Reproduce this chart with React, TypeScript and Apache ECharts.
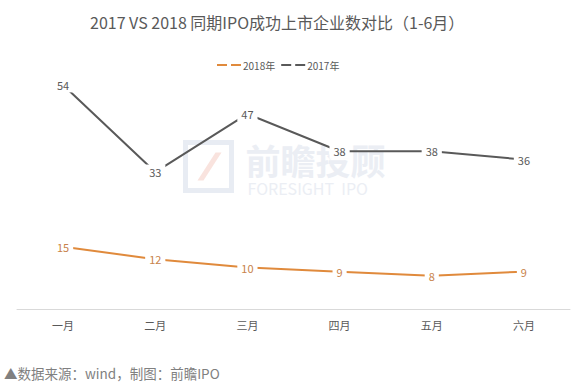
import React, { useEffect, useRef } from "react";
import * as echarts from "echarts";

const categories = ["一月", "二月", "三月", "四月", "五月", "六月"];
const values2018 = [15, 12, 10, 9, 8, 9];
const values2017 = [54, 33, 47, 38, 38, 36];
const seriesNames = ["2018年", "2017年"];

const FONT = "'Noto Sans CJK SC', 'Noto Sans', sans-serif";

export default function App() {
  const ref = useRef<HTMLDivElement>(null);
  useEffect(() => {
    if (!ref.current) return;
    const chart = echarts.init(ref.current, null, { renderer: "svg" });
    const legendIcon = "path://M0,0H10V2H0Z M14,0H24V2H14Z";
    const labelCfg = (color: string) => ({
      show: true,
      position: "inside",
      color,
      fontSize: 11,
      fontFamily: FONT,
      backgroundColor: "#ffffff",
      padding: [2, 4],
    });
    chart.setOption({
      animation: false,
      backgroundColor: "#ffffff",
      textStyle: { fontFamily: FONT },
      title: {
        text: "2017 VS 2018 同期IPO成功上市企业数对比（1-6月）",
        left: 85,
        top: 9,
        textStyle: { fontSize: 16, fontWeight: "normal", color: "#595959", fontFamily: FONT },
      },
      legend: {
        data: seriesNames.map((n) => ({ name: n, icon: legendIcon })),
        top: 55,
        left: 212,
        itemWidth: 24,
        itemHeight: 2,
        itemGap: 6,
        textStyle: { fontSize: 10, color: "#595959", fontFamily: FONT, padding: [0, 0, 0, -3] },
      },
      grid: { left: 17, right: 5, top: 60, bottom: 79, containLabel: false },
      xAxis: {
        type: "category",
        data: categories,
        boundaryGap: true,
        axisLine: { show: true, lineStyle: { color: "#d9d9d9", width: 1 } },
        axisTick: { show: false },
        axisLabel: { color: "#595959", fontSize: 11, margin: 10, fontFamily: FONT },
      },
      yAxis: {
        type: "value",
        min: 0,
        max: 60,
        interval: 10,
        show: false,
        splitLine: { show: false },
      },
      graphic: [
        {
          type: "group",
          left: 183,
          top: 140,
          silent: true,
          z: -10,
          children: [
            { type: "rect", shape: { x: 2, y: 2, width: 46, height: 48 }, style: { fill: "none", stroke: "#e8ecf3", lineWidth: 5 } },
            { type: "polygon", shape: { points: [[14, 40], [20, 40], [38, 12], [32, 12]] }, style: { fill: "#f9e3de" } },
            {
              type: "text",
              x: 62,
              y: 0,
              style: {
                text: "{a|前瞻投顾}\n{b|FORESIGHT  IPO}",
                fill: "#ebeef4",
                fontFamily: FONT,
                rich: {
                  a: { fontSize: 35, lineHeight: 38, fontWeight: "bold", fill: "#ebeef4", fontFamily: FONT },
                  b: { fontSize: 16, lineHeight: 18, fill: "#ebeef4", fontFamily: FONT, padding: [0, 0, 0, 2] },
                },
              },
            },
          ],
        },
        {
          type: "text",
          left: 4,
          top: 366,
          style: { text: "▲数据来源：wind，制图：前瞻IPO", fontSize: 13.5, fill: "#808080", fontFamily: FONT },
        },
      ],
      series: [
        {
          name: seriesNames[0],
          type: "line",
          data: values2018,
          symbol: "circle",
          symbolSize: 1,
          lineStyle: { color: "#e08a3c", width: 2 },
          itemStyle: { color: "#e08a3c" },
          label: labelCfg("#c8824a"),
          z: 3,
        },
        {
          name: seriesNames[1],
          type: "line",
          data: values2017,
          symbol: "circle",
          symbolSize: 1,
          lineStyle: { color: "#595959", width: 2 },
          itemStyle: { color: "#595959" },
          label: labelCfg("#595959"),
          z: 3,
        },
      ],
    });
    return () => chart.dispose();
  }, []);
  return <div ref={ref} style={{ width: 575, height: 388, position: "absolute", left: 0, top: 0 }} />;
}
